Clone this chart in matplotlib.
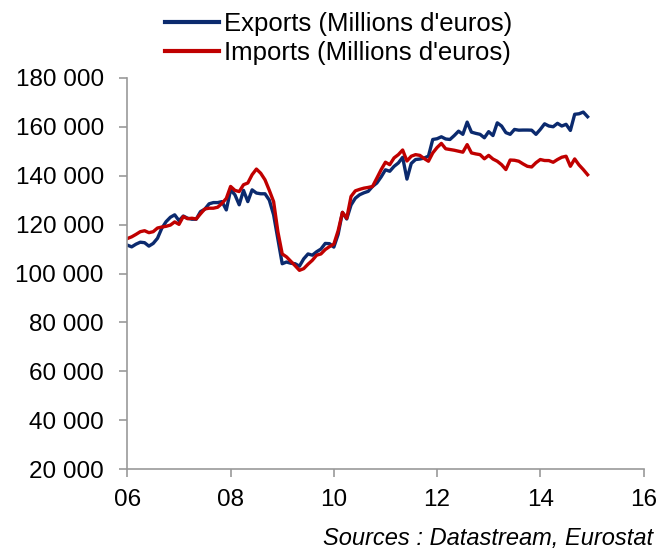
import matplotlib
matplotlib.use("Agg")
import matplotlib.pyplot as plt
from matplotlib.ticker import FuncFormatter

plt.rcParams['font.family'] = ['Liberation Sans', 'DejaVu Sans']

# Donnees mensuelles, janvier 2006 a decembre 2014 (millions d'euros)
start_year = 2006
exports = [
    111600, 110900, 112000, 112800, 112600, 111200, 112300, 114400, 118500, 121200, 123000, 124000,
    121600, 123500, 122600, 122200, 122200, 125300, 126300, 128500, 129000, 129000, 129400, 126000,
    134200, 132200, 128100, 134000, 129400, 134200, 132900, 132600, 132600, 130000, 124000, 114000,
    104000, 104700, 104200, 104000, 103000, 106000, 108000, 107500, 108900, 110000, 112300, 112200,
    110800, 116000, 125000, 122300, 128000, 130800, 132200, 133000, 133600, 135600, 137000, 139500,
    142400, 141800, 143800, 145200, 147500, 138600, 145000, 146600, 146800, 147200, 148000, 154800,
    155100, 155900, 155000, 154800, 156400, 158200, 156900, 161900, 157800, 157300, 156900, 155500,
    158000, 156400, 161600, 160300, 157600, 156900, 158900, 158600, 158650, 158650, 158600, 156900,
    158900, 161200, 160300, 160000, 161400, 160300, 161000, 158500, 165100, 165300, 166000, 164100,
]
imports = [
    114300, 115000, 116000, 117100, 117500, 116700, 117100, 118600, 119000, 119300, 119800, 121100,
    120100, 123300, 122400, 122600, 122300, 124400, 126400, 126700, 126700, 127100, 128700, 130700,
    135600, 134000, 133500, 136300, 137000, 140400, 142700, 141000, 138300, 134000, 129400, 117000,
    108000, 106800, 105000, 103200, 101300, 102000, 103800, 105400, 107500, 108000, 109800, 111000,
    112000, 117500, 125000, 122600, 131500, 133800, 134400, 134900, 135200, 135600, 139000, 142460,
    145500, 144500, 147260, 148600, 150500, 146000, 147950, 148600, 148300, 147000, 145900, 149300,
    151500, 153200, 151000, 150700, 150400, 150000, 149600, 152700, 149300, 148900, 148600, 146900,
    148300, 146800, 145900, 144500, 142500, 146400, 146300, 145900, 144800, 143830, 143560, 145300,
    146600, 146200, 146170, 145480, 146600, 147540, 147950, 143830, 146850, 144400, 142500, 140400,
]
x_ticks = [2006, 2008, 2010, 2012, 2014, 2016]
x_tick_labels = ['06', '08', '10', '12', '14', '16']
y_ticks = [20000, 40000, 60000, 80000, 100000, 120000, 140000, 160000, 180000]

dates = [start_year + i / 12 for i in range(len(exports))]

fig = plt.figure(figsize=(6.6, 5.52), dpi=100)
ax = fig.add_axes([0.193, 0.150, 0.782, 0.709])

ax.plot(dates, exports, color='#0b2a6e', lw=2.4, label="Exports (Millions d'euros)")
ax.plot(dates, imports, color='#c00000', lw=2.4, label="Imports (Millions d'euros)")

ax.set_xlim(2006, 2016)
ax.set_ylim(20000, 180000)
ax.set_xticks(x_ticks)
ax.set_xticklabels(x_tick_labels)
ax.set_yticks(y_ticks)
ax.yaxis.set_major_formatter(FuncFormatter(lambda v, p: f"{int(v):,}".replace(",", " ")))

for side in ['top', 'right']:
    ax.spines[side].set_visible(False)
for side in ['left', 'bottom']:
    ax.spines[side].set_color('#999999')
    ax.spines[side].set_linewidth(1.2)
ax.tick_params(axis='both', colors='#999999', length=6, width=1.2, labelsize=17.5,
               labelcolor='black')
ax.tick_params(axis='y', pad=11)
ax.tick_params(axis='x', pad=8)

leg = fig.legend(loc='upper left', bbox_to_anchor=(0.25, 0.978), frameon=False,
                 fontsize=18.5, handlelength=2.1, handletextpad=0.2, labelspacing=0.17,
                 borderaxespad=0, borderpad=0)
for line in leg.get_lines():
    line.set_linewidth(3)

fig.text(0.99, 0.012, 'Sources : Datastream, Eurostat', ha='right', va='baseline',
         fontsize=17, style='italic')

fig.savefig('out.png', dpi=100)
